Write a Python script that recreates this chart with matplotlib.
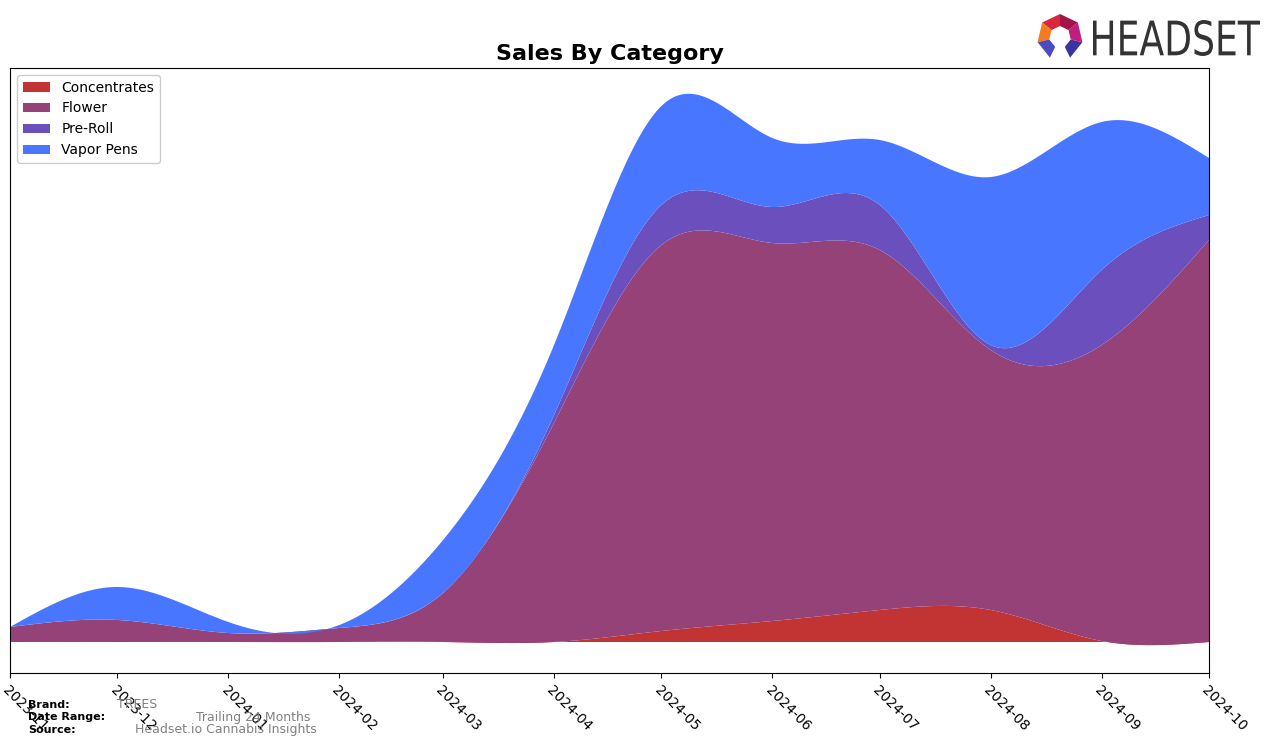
import numpy as np
import matplotlib
matplotlib.use("Agg")
import matplotlib.pyplot as plt
import matplotlib.dates as mdates
from matplotlib.patches import Polygon, Patch, PathPatch
from matplotlib.textpath import TextPath
from matplotlib.font_manager import FontProperties
from matplotlib.transforms import Affine2D
import datetime as dt

# ---- data (monthly values, arbitrary sales units) ----
months = ["2023-11", "2023-12", "2024-01", "2024-02", "2024-03", "2024-04",
          "2024-05", "2024-06", "2024-07", "2024-08", "2024-09", "2024-10"]
categories = ["Concentrates", "Flower", "Pre-Roll", "Vapor Pens"]
concentrates = [0, 0, 0, 0, 0, 0, 11, 21, 32, 32, 1, 0]
flower = [15, 22, 9, 14, 49, 219, 386, 378, 360, 260, 296, 402]
pre_roll = [0, 0, 0, 0, 0, 8, 40, 36, 45, 5, 75, 25]
vapor_pens = [0, 33, 11, 3, 53, 70, 99, 69, 65, 168, 148, 57]
colors = ["#c23333", "#954278", "#6b4fbd", "#4876ff"]

brand = "TREES"
date_range = "Trailing 24 Months"
source = "Headset.io Cannabis Insights"


def natural_spline(x, y, xs):
    x = np.asarray(x, float)
    y = np.asarray(y, float)
    n = len(x)
    h = np.diff(x)
    A = np.zeros((n, n))
    r = np.zeros(n)
    A[0, 0] = 1
    A[-1, -1] = 1
    for i in range(1, n - 1):
        A[i, i - 1] = h[i - 1]
        A[i, i] = 2 * (h[i - 1] + h[i])
        A[i, i + 1] = h[i]
        r[i] = 6 * ((y[i + 1] - y[i]) / h[i] - (y[i] - y[i - 1]) / h[i - 1])
    M = np.linalg.solve(A, r)
    idx = np.clip(np.searchsorted(x, xs, side="right") - 1, 0, n - 2)
    x0, x1 = x[idx], x[idx + 1]
    hh = x1 - x0
    t0 = x1 - xs
    t1 = xs - x0
    return (M[idx] * t0 ** 3 / (6 * hh) + M[idx + 1] * t1 ** 3 / (6 * hh)
            + (y[idx] / hh - M[idx] * hh / 6) * t0
            + (y[idx + 1] / hh - M[idx + 1] * hh / 6) * t1)


dates = [dt.datetime.strptime(m, "%Y-%m") for m in months]
xn = mdates.date2num(dates)
xs = np.linspace(xn[0], xn[-1], 800)
series = [concentrates, flower, pre_roll, vapor_pens]
smooth = [natural_spline(xn, s, xs) for s in series]

W, H = 1276, 747
fig = plt.figure(figsize=(W / 100, H / 100), dpi=100)
ax = fig.add_axes([10 / W, 1 - 673 / H, (1209 - 10) / W, (673 - 68) / H])

ax.stackplot(mdates.num2date(xs), *smooth, colors=colors, alpha=1.0, linewidth=0)
ax.set_xlim(dates[0], dates[-1])
ax.set_ylim(-31, 574)
ax.set_yticks([])
ax.set_xticks(dates)
ax.set_xticklabels(months, rotation=-45, ha="left", rotation_mode="anchor", fontsize=10)
ax.set_title("Sales By Category", fontsize=16, fontweight="bold", pad=6)

handles = [Patch(facecolor=c, label=l) for c, l in zip(colors, categories)]
ax.legend(handles=handles, loc="upper left", fontsize=10, framealpha=1)

# footer
fig.text(28 / W, 1 - 705 / H, "Brand:", fontsize=8, fontweight="bold", va="center")
fig.text(28 / W, 1 - 717 / H, "Date Range:", fontsize=8, fontweight="bold", va="center")
fig.text(28 / W, 1 - 730 / H, "Source:", fontsize=8, fontweight="bold", va="center")
fig.text(117 / W, 1 - 705 / H, brand, fontsize=9, color="gray", va="center")
fig.text(196 / W, 1 - 717 / H, date_range, fontsize=9, color="gray", va="center")
fig.text(135 / W, 1 - 730 / H, source, fontsize=9, color="gray", va="center")

# logo (pixel coordinates, y downward)
lax = fig.add_axes([1030 / W, 1 - 70 / H, 246 / W, 70 / H])
lax.set_xlim(1030, 1276)
lax.set_ylim(70, 0)
lax.axis("off")
cx, cy = 1060, 37
ro, ri = 23, 11
angs = np.deg2rad([-90, -141, -193, -244, -296, -347, -39, -90])
pts_o = [(cx + ro * np.cos(a), cy + ro * np.sin(a)) for a in angs]
pts_i = [(cx + ri * np.cos(a), cy + ri * np.sin(a)) for a in angs]
order = [(0, "#d62a3c"), (1, "#f47b20"), (2, "#4b4bbf"), (4, "#3a34a0"), (5, "#c21f7d"), (6, "#a3144a")]
for k, col in order:
    poly = [pts_o[k], pts_o[k + 1], pts_i[k + 1], pts_i[k]]
    lax.add_patch(Polygon(poly, closed=True, facecolor=col, edgecolor="none"))

tp = TextPath((0, 0), "HEADSET", size=10, prop=FontProperties(family="DejaVu Sans"))
bb = tp.get_extents()
sx = (1260 - 1093) / bb.width
sy = (56 - 20) / bb.height
tr = Affine2D().translate(-bb.x0, -bb.y0).scale(sx, -sy).translate(1093, 56)
lax.add_patch(PathPatch(tr.transform_path(tp), facecolor="#333333", edgecolor="none"))

fig.savefig("out.png", dpi=100)
